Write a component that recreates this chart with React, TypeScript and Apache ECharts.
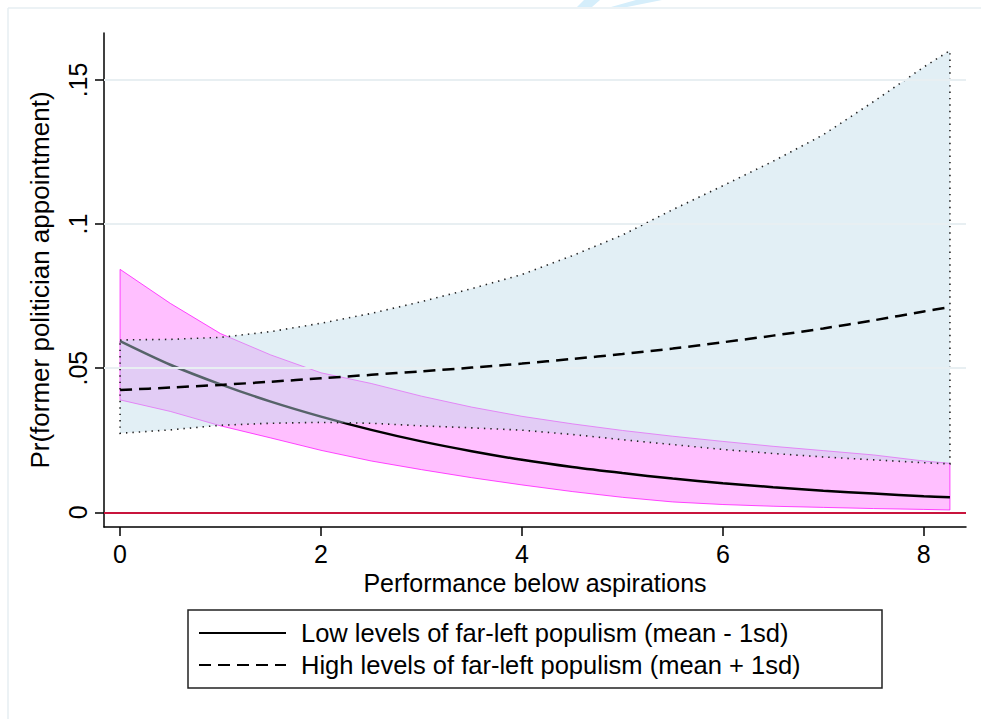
import React, { useEffect, useRef } from "react";
import * as echarts from "echarts";

// ---- data ----
const xs = [0, 0.5, 1, 1.5, 2, 2.5, 3, 3.5, 4, 4.5, 5, 5.5, 6, 6.5, 7, 7.5, 8, 8.26];

// Low levels of far-left populism (mean - 1sd)
const lowMean = [0.0594, 0.0512, 0.0444, 0.0384, 0.0332, 0.0286, 0.0246, 0.0212, 0.0182, 0.0157, 0.0136, 0.0117, 0.0101, 0.0087, 0.0075, 0.0065, 0.0056, 0.0052];
const lowUpper = [0.0843, 0.0725, 0.062, 0.0546, 0.0484, 0.0447, 0.0403, 0.0365, 0.0333, 0.0307, 0.0284, 0.0264, 0.0246, 0.0229, 0.0214, 0.0199, 0.0178, 0.017];
const lowLower = [0.039, 0.035, 0.03, 0.0258, 0.0215, 0.0178, 0.0148, 0.012, 0.0095, 0.0072, 0.0052, 0.0036, 0.0027, 0.0021, 0.0017, 0.0013, 0.001, 0.0008];

// High levels of far-left populism (mean + 1sd)
const highMean = [0.0424, 0.0433, 0.0442, 0.0453, 0.0465, 0.0477, 0.0489, 0.0502, 0.0516, 0.0532, 0.0549, 0.0568, 0.059, 0.0613, 0.0638, 0.0666, 0.0697, 0.0712];
const highUpper = [0.0598, 0.06, 0.0607, 0.0627, 0.0656, 0.069, 0.0731, 0.0776, 0.0825, 0.089, 0.0962, 0.105, 0.1133, 0.1218, 0.131, 0.1425, 0.1545, 0.1602];
const highLower = [0.0274, 0.0286, 0.0302, 0.0309, 0.0312, 0.0309, 0.03, 0.0293, 0.0285, 0.027, 0.0252, 0.0235, 0.0218, 0.0204, 0.0192, 0.0182, 0.0172, 0.0168];

const seriesNames = [
  "Low levels of far-left populism (mean - 1sd)",
  "High levels of far-left populism (mean + 1sd)",
];

const xTicks = [0, 2, 4, 6, 8];
const yTicks = [0, 0.05, 0.1, 0.15];
const gridVals = [0.05, 0.1, 0.15];

const xTitle = "Performance below aspirations";
const yTitle = "Pr(former politician appointment)";

const FONT = "'Liberation Sans', Arial, Helvetica, sans-serif";

function bandRenderer(lo: number[], hi: number[], style: any) {
  return (params: any, api: any) => {
    if (params.dataIndex !== 0) return null;
    const top = xs.map((x, i) => api.coord([x, hi[i]]));
    const bot = xs.map((x, i) => api.coord([x, lo[i]])).reverse();
    return {
      type: "polygon",
      shape: { points: top.concat(bot) },
      style,
    };
  };
}

const fmtY = (v: number) => (v === 0 ? "0" : String(v).replace(/^0/, ""));

export default function App() {
  const ref = useRef<HTMLDivElement>(null);
  useEffect(() => {
    document.body.style.margin = "0";
    const chart = echarts.init(ref.current!, null, { renderer: "svg" });
    const option: any = {
      animation: false,
      backgroundColor: "#ffffff",
      textStyle: { fontFamily: FONT },
      grid: { left: 104, top: 33, right: 15, bottom: 192, containLabel: false },
      xAxis: {
        type: "value",
        min: -0.16,
        max: 8.42,
        name: xTitle,
        nameLocation: "middle",
        nameGap: 40,
        nameTextStyle: { fontSize: 25, color: "#000", fontFamily: FONT },
        axisLine: { show: true, onZero: false, lineStyle: { color: "#000", width: 1.5 } },
        axisTick: { show: true, customValues: xTicks, length: 9, lineStyle: { color: "#000", width: 1.5 } },
        axisLabel: { customValues: xTicks, fontSize: 25, color: "#000", margin: 14, fontFamily: FONT, formatter: (v: number) => String(v) },
        splitLine: { show: false },
      },
      yAxis: {
        type: "value",
        min: -0.0051,
        max: 0.1663,
        name: yTitle,
        nameLocation: "middle",
        nameRotate: 90,
        nameGap: 51,
        nameTextStyle: { fontSize: 26, color: "#000", fontFamily: FONT },
        axisLine: { show: true, onZero: false, lineStyle: { color: "#000", width: 1.5 } },
        axisTick: { show: true, customValues: yTicks, length: 9, lineStyle: { color: "#000", width: 1.5 } },
        axisLabel: { customValues: yTicks, rotate: 90, fontSize: 25, color: "#000", margin: 14, fontFamily: FONT, formatter: fmtY },
        splitLine: { show: false },
      },
      legend: {
        data: seriesNames,
        orient: "vertical",
        left: 198,
        top: 619,
        padding: 0,
        itemWidth: 87,
        itemHeight: 14,
        itemGap: 4,
        selectedMode: false,
        itemStyle: { opacity: 0 },
        textStyle: { fontSize: 25.5, color: "#000", fontFamily: FONT, padding: [0, 0, 0, 10], lineHeight: 28 },
      },
      graphic: [
        { type: "line", shape: { x1: 8, y1: 8, x2: 981, y2: 8 }, style: { stroke: "#e6eef2", lineWidth: 1.5 }, silent: true, z: -10 },
        { type: "line", shape: { x1: 8, y1: 8, x2: 8, y2: 719 }, style: { stroke: "#e6eef2", lineWidth: 1.5 }, silent: true, z: -10 },
        { type: "polygon", shape: { points: [[577, 7], [592, 7], [600, 0], [584, 0]] }, style: { fill: "#d5eefb" }, silent: true },
        { type: "polygon", shape: { points: [[611, 7], [627, 7], [662, 0], [636, 0]] }, style: { fill: "#d5eefb" }, silent: true },
        { type: "rect", shape: { x: 188, y: 610, width: 694, height: 78 }, style: { fill: "none", stroke: "#222", lineWidth: 1.5 }, silent: true },
      ],
      series: [
        {
          name: "grid",
          type: "line",
          data: [],
          z: 0,
          silent: true,
          markLine: {
            silent: true,
            symbol: "none",
            label: { show: false },
            lineStyle: { color: "#e8eff2", width: 2, type: "solid" },
            data: gridVals.map((v) => ({ yAxis: v })),
          },
        },
        {
          name: "lowBand",
          type: "custom",
          z: 2,
          silent: true,
          data: xs.map((x, i) => [x, lowLower[i], lowUpper[i]]),
          encode: { x: 0, y: [1, 2] },
          renderItem: bandRenderer(lowLower, lowUpper, {
            fill: "rgba(255,0,255,0.25)",
            stroke: "rgba(255,0,255,0.7)",
            lineWidth: 1,
          }),
        },
        {
          name: seriesNames[0],
          type: "line",
          z: 3,
          smooth: 0.3,
          symbol: "none",
          data: xs.map((x, i) => [x, lowMean[i]]),
          lineStyle: { color: "#000", width: 2.5, type: "solid" },
          itemStyle: { color: "#000" },
        },
        {
          name: "highBand",
          type: "custom",
          z: 4,
          silent: true,
          data: xs.map((x, i) => [x, highLower[i], highUpper[i]]),
          encode: { x: 0, y: [1, 2] },
          renderItem: bandRenderer(highLower, highUpper, {
            fill: "rgba(191,219,233,0.45)",
            stroke: "#222",
            lineWidth: 1.6,
            lineDash: [1.4, 5],
          }),
        },
        {
          name: seriesNames[1],
          type: "line",
          z: 5,
          smooth: 0.3,
          symbol: "none",
          data: xs.map((x, i) => [x, highMean[i]]),
          lineStyle: { color: "#000", width: 2.5, type: [12, 7] },
          itemStyle: { color: "#000" },
        },
        {
          name: "zero",
          type: "line",
          data: [],
          z: 6,
          silent: true,
          markLine: {
            silent: true,
            symbol: "none",
            label: { show: false },
            lineStyle: { color: "#c8143c", width: 2, type: "solid" },
            data: [{ yAxis: 0 }],
          },
        },
      ],
    };
    chart.setOption(option);
    return () => chart.dispose();
  }, []);
  return <div ref={ref} style={{ width: 981, height: 719 }} />;
}
